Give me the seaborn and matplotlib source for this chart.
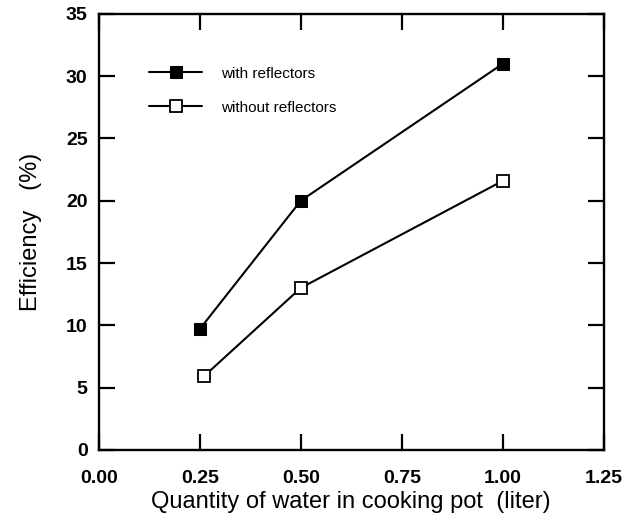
import pandas as pd
import matplotlib
matplotlib.use('Agg')
import matplotlib.pyplot as plt
import seaborn as sns

# Data
water = [0.25, 0.50, 1.00]
with_reflectors = [9.7, 20.0, 31.0]
water_without = [0.26, 0.50, 1.00]
without_reflectors = [5.9, 13.0, 21.6]

x_ticks = [0.00, 0.25, 0.50, 0.75, 1.00, 1.25]
y_ticks = [0, 5, 10, 15, 20, 25, 30, 35]

df_with = pd.DataFrame({'water': water, 'eff': with_reflectors})
df_without = pd.DataFrame({'water': water_without, 'eff': without_reflectors})

sns.set_style('ticks')
plt.rcParams['font.family'] = ['Liberation Sans', 'DejaVu Sans']
plt.rcParams.update({'text.color': 'black', 'axes.labelcolor': 'black',
                     'xtick.color': 'black', 'ytick.color': 'black'})

fig = plt.figure(figsize=(6.37, 5.13), dpi=100)
ax = fig.add_axes([0.155, 0.123, 0.793, 0.850])

sns.lineplot(data=df_with, x='water', y='eff', ax=ax, color='black', lw=1.5,
             marker='s', markersize=9, markerfacecolor='black',
             markeredgecolor='black', label='with reflectors')
sns.lineplot(data=df_without, x='water', y='eff', ax=ax, color='black', lw=1.5,
             marker='s', markersize=8, markerfacecolor='white',
             markeredgecolor='black', markeredgewidth=1.3,
             label='without reflectors')

ax.set_xlim(0, 1.25)
ax.set_ylim(0, 35)
ax.set_xticks(x_ticks)
ax.set_yticks(y_ticks)
ax.set_xticklabels(['%.2f' % t for t in x_ticks])
ax.set_yticklabels([str(t) for t in y_ticks])

for s in ax.spines.values():
    s.set_linewidth(1.7)
    s.set_color('black')
ax.tick_params(direction='in', length=11.5, width=1.6, top=True, right=True,
               labelsize=14, colors='black')
ax.tick_params(axis='x', pad=14.5)
ax.tick_params(axis='y', pad=8)
for lab in ax.get_xticklabels() + ax.get_yticklabels():
    lab.set_fontweight('bold')

ax.set_xlabel('Quantity of water in cooking pot  (liter)', fontsize=17, labelpad=3)
ax.set_ylabel('Efficiency   (%)', fontsize=17, labelpad=17)

leg = ax.legend(loc='upper left', bbox_to_anchor=(0.072, 0.91), frameon=False,
                fontsize=11, handlelength=3.5, handletextpad=1.2,
                labelspacing=1.3, labelcolor='black')

fig.savefig('out.png', dpi=100)
